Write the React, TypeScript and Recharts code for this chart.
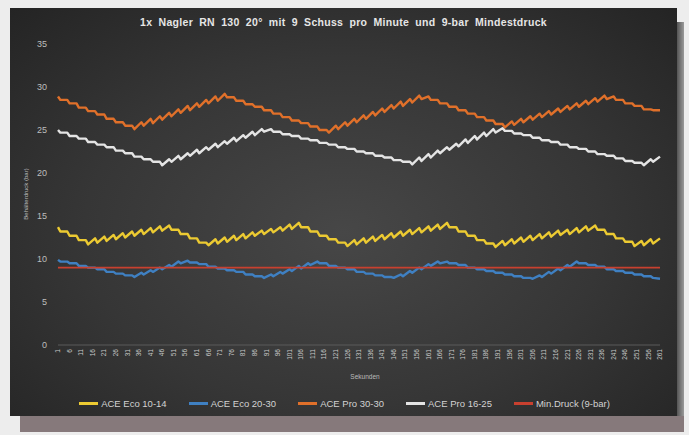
import React from "react";
import { LineChart, Line, XAxis, YAxis, Legend } from "recharts";

// time of each nailer shot (seconds)
const shotSeconds = [1, 5, 9, 13, 17, 21, 25, 29, 33, 37, 41, 45, 49, 53, 57, 61, 65, 69, 73, 77, 81, 85, 89, 93, 97, 101, 105, 109, 113, 117, 121, 125, 129, 133, 137, 141, 145, 149, 153, 157, 161, 165, 169, 173, 177, 181, 185, 189, 193, 197, 201, 205, 209, 213, 217, 221, 225, 229, 233, 237, 241, 245, 249, 253, 257, 261];

const xTicks = [1, 6, 11, 16, 21, 26, 31, 36, 41, 46, 51, 56, 61, 66, 71, 76, 81, 86, 91, 96, 101, 106, 111, 116, 121, 126, 131, 136, 141, 146, 151, 156, 161, 166, 171, 176, 181, 186, 191, 196, 201, 206, 211, 216, 221, 226, 231, 236, 241, 246, 251, 256, 261];
const yTicks = [0, 5, 10, 15, 20, 25, 30, 35];

// pressure just before each shot / just after each shot (bar)
const eco1014Pre = [13.7, 13.2, 12.7, 12.2, 12.4, 12.6, 12.8, 13.0, 13.2, 13.4, 13.6, 13.8, 13.9, 13.4, 12.9, 12.4, 11.9, 12.3, 12.5, 12.7, 12.9, 13.1, 13.3, 13.5, 13.7, 14.0, 14.2, 13.7, 13.2, 12.7, 12.3, 11.9, 12.2, 12.4, 12.6, 12.8, 13.0, 13.2, 13.4, 13.6, 13.8, 14.0, 14.2, 13.7, 13.2, 12.7, 12.2, 11.8, 12.1, 12.3, 12.5, 12.7, 12.9, 13.1, 13.3, 13.4, 13.6, 13.8, 13.9, 13.4, 12.9, 12.4, 12.0, 12.1, 12.3, 12.4];
const eco1014Post = [13.2, 12.7, 12.2, 11.7, 11.9, 12.1, 12.3, 12.5, 12.7, 12.9, 13.1, 13.3, 13.4, 12.9, 12.4, 11.9, 11.6, 11.8, 12.0, 12.2, 12.4, 12.7, 12.9, 13.1, 13.3, 13.5, 13.7, 13.2, 12.7, 12.3, 11.9, 11.5, 11.7, 11.9, 12.1, 12.3, 12.5, 12.7, 12.9, 13.1, 13.3, 13.5, 13.7, 13.2, 12.7, 12.2, 11.8, 11.4, 11.6, 11.8, 12.0, 12.2, 12.4, 12.6, 12.8, 12.9, 13.1, 13.3, 13.4, 12.9, 12.4, 12.0, 11.5, 11.6, 11.8];

const eco2030Pre = [9.9, 9.7, 9.5, 9.2, 9.0, 8.8, 8.5, 8.3, 8.1, 8.4, 8.7, 9.0, 9.3, 9.7, 9.8, 9.6, 9.4, 9.1, 8.9, 8.7, 8.5, 8.2, 8.0, 8.2, 8.5, 8.8, 9.2, 9.5, 9.7, 9.5, 9.2, 9.0, 8.8, 8.5, 8.3, 8.1, 7.9, 8.2, 8.6, 9.0, 9.4, 9.7, 9.7, 9.5, 9.3, 9.0, 8.8, 8.6, 8.4, 8.2, 8.0, 7.8, 8.1, 8.5, 8.9, 9.3, 9.7, 9.5, 9.3, 9.1, 8.8, 8.6, 8.4, 8.2, 8.0, 7.7];
const eco2030Post = [9.7, 9.5, 9.2, 9.0, 8.8, 8.5, 8.3, 8.1, 7.9, 8.2, 8.5, 8.8, 9.1, 9.5, 9.6, 9.4, 9.1, 8.9, 8.7, 8.5, 8.2, 8.0, 7.8, 8.0, 8.3, 8.6, 8.9, 9.3, 9.5, 9.2, 9.0, 8.8, 8.5, 8.3, 8.1, 7.9, 7.8, 8.0, 8.4, 8.8, 9.2, 9.5, 9.5, 9.3, 9.0, 8.8, 8.6, 8.4, 8.2, 8.0, 7.8, 7.7, 7.9, 8.3, 8.7, 9.1, 9.5, 9.3, 9.1, 8.8, 8.6, 8.4, 8.2, 8.0, 7.8];

const pro3030Pre = [28.9, 28.5, 28.1, 27.6, 27.2, 26.8, 26.3, 25.9, 25.5, 25.9, 26.3, 26.6, 27.0, 27.4, 27.8, 28.1, 28.5, 28.9, 29.2, 28.8, 28.4, 28.0, 27.7, 27.3, 26.9, 26.5, 26.1, 25.8, 25.4, 25.0, 25.5, 25.9, 26.3, 26.7, 27.1, 27.5, 27.9, 28.3, 28.6, 29.0, 28.9, 28.5, 28.1, 27.7, 27.3, 26.9, 26.5, 26.1, 25.7, 26.0, 26.3, 26.6, 26.9, 27.2, 27.5, 27.8, 28.1, 28.4, 28.7, 29.0, 28.9, 28.5, 28.1, 27.8, 27.4, 27.3];
const pro3030Post = [28.5, 28.1, 27.6, 27.2, 26.8, 26.3, 25.9, 25.5, 25.1, 25.5, 25.8, 26.2, 26.6, 27.0, 27.3, 27.7, 28.1, 28.4, 28.8, 28.4, 28.0, 27.7, 27.3, 26.9, 26.5, 26.1, 25.8, 25.4, 25.0, 24.7, 25.1, 25.5, 25.9, 26.3, 26.7, 27.1, 27.5, 27.8, 28.2, 28.6, 28.5, 28.1, 27.7, 27.3, 26.9, 26.5, 26.1, 25.7, 25.3, 25.6, 25.9, 26.2, 26.5, 26.8, 27.1, 27.4, 27.7, 28.0, 28.3, 28.6, 28.5, 28.1, 27.8, 27.4, 27.3];

const pro1625Pre = [25.0, 24.7, 24.3, 24.0, 23.6, 23.3, 23.0, 22.6, 22.3, 21.9, 21.6, 21.3, 21.6, 22.0, 22.3, 22.7, 23.0, 23.4, 23.7, 24.1, 24.4, 24.8, 25.1, 25.1, 24.8, 24.5, 24.3, 24.0, 23.8, 23.5, 23.3, 23.0, 22.8, 22.5, 22.3, 22.0, 21.8, 21.5, 21.3, 21.8, 22.2, 22.6, 23.0, 23.4, 23.9, 24.3, 24.7, 25.1, 25.2, 24.9, 24.6, 24.4, 24.1, 23.8, 23.6, 23.3, 23.0, 22.8, 22.5, 22.2, 22.0, 21.7, 21.4, 21.2, 21.6, 21.9];
const pro1625Post = [24.7, 24.3, 24.0, 23.6, 23.3, 23.0, 22.6, 22.3, 21.9, 21.6, 21.3, 20.9, 21.3, 21.6, 22.0, 22.3, 22.7, 23.0, 23.4, 23.7, 24.1, 24.4, 24.8, 24.8, 24.5, 24.3, 24.0, 23.8, 23.5, 23.3, 23.0, 22.8, 22.5, 22.3, 22.0, 21.8, 21.5, 21.3, 21.0, 21.4, 21.8, 22.3, 22.7, 23.1, 23.5, 23.9, 24.3, 24.7, 24.9, 24.6, 24.4, 24.1, 23.8, 23.6, 23.3, 23.0, 22.8, 22.5, 22.2, 22.0, 21.7, 21.4, 21.2, 20.9, 21.3];

const minDruckBar = 9;

const seriesNames = ["ACE Eco 10-14", "ACE Eco 20-30", "ACE Pro 30-30", "ACE Pro 16-25", "Min.Druck (9-bar)"];
const seriesColors = ["#ecca32", "#3f80c2", "#e0702a", "#e4e4e4", "#c8402f"];

const rows: any[] = [];
shotSeconds.forEach((t, k) => {
  rows.push({ t, eco1014: eco1014Pre[k], eco2030: eco2030Pre[k], pro3030: pro3030Pre[k], pro1625: pro1625Pre[k], min: minDruckBar });
  if (k < eco1014Post.length) {
    rows.push({ t: t + 1, eco1014: eco1014Post[k], eco2030: eco2030Post[k], pro3030: pro3030Post[k], pro1625: pro1625Post[k], min: minDruckBar });
  }
});

const keys = ["eco1014", "eco2030", "pro3030", "pro1625", "min"];

const FONT = "'Liberation Sans', 'DejaVu Sans', sans-serif";

const XTick = (props: any) => {
  const { x, y, payload } = props;
  return (
    <text x={x} y={y} transform={`rotate(-90 ${x} ${y})`} textAnchor="end" dy="0.33em" fill="#c8c8c8" fontSize={6.5} fontFamily={FONT}>
      {payload.value}
    </text>
  );
};

const LegendContent = (props: any) => {
  const payload = [...(props.payload || [])].sort(
    (a: any, b: any) => seriesNames.indexOf(a.value) - seriesNames.indexOf(b.value)
  );
  return (
    <div style={{ display: "flex", justifyContent: "center", gap: 22, fontFamily: FONT, fontSize: 9.5, color: "#d2d2d2", width: 689 }}>
      {payload.map((p: any, i: number) => (
        <div key={i} style={{ display: "flex", alignItems: "center" }}>
          <span style={{ display: "inline-block", width: 19, height: 2.5, background: p.color, marginRight: 3 }} />
          <span>{p.value}</span>
        </div>
      ))}
    </div>
  );
};

export default function App() {
  return (
    <div style={{ position: "absolute", left: 0, top: 0, width: 689, height: 435, background: "#ededed", overflow: "hidden" }}>
      <div style={{ position: "absolute", left: 20, top: 414, width: 664, height: 18, background: "#86797b" }} />
      <div style={{ position: "absolute", left: 676, top: 22, width: 8, height: 394, background: "linear-gradient(90deg,#4a4a4a,#9a9a9a)" }} />
      <div style={{ position: "absolute", left: 10, top: 8, width: 667, height: 408, background: "radial-gradient(ellipse at 50% 55%, #474747 0%, #363636 55%, #242424 100%)" }} />
      <div style={{ position: "absolute", left: 10, top: 16, width: 667, textAlign: "center", fontFamily: FONT, fontSize: 10.5, fontWeight: "bold", color: "#e6e6e6", wordSpacing: 3, letterSpacing: 0.3 }}>
        1x Nagler RN 130 20° mit 9 Schuss pro Minute und 9-bar Mindestdruck
      </div>
      <div style={{ position: "absolute", left: 26, top: 195, width: 0, height: 0 }}>
        <div style={{ position: "absolute", left: -40, top: -4, width: 80, textAlign: "center", transform: "rotate(-90deg)", fontFamily: FONT, fontSize: 6, color: "#bbbbbb", whiteSpace: "nowrap" }}>
          Behälterdruck (bar)
        </div>
      </div>
      <div style={{ position: "absolute", left: 330, top: 373, width: 70, textAlign: "center", fontFamily: FONT, fontSize: 6.5, color: "#bbbbbb" }}>
        Sekunden
      </div>
      <div style={{ position: "absolute", left: 0, top: 0 }}>
        <LineChart width={689} height={435} data={rows} margin={{ top: 44, right: 29, left: 0, bottom: 60 }}>
          <XAxis
            dataKey="t"
            type="number"
            domain={[1, 261]}
            ticks={xTicks}
            interval={0}
            height={30}
            tick={<XTick />}
            tickLine={false}
            tickSize={0}
            tickMargin={4}
            axisLine={{ stroke: "#5a5a5a" }}
          />
          <YAxis
            type="number"
            domain={[0, 35]}
            ticks={yTicks}
            width={58}
            axisLine={false}
            tickLine={false}
            tickSize={0}
            tickMargin={11}
            tick={{ fill: "#bdbdbd", fontSize: 9, fontFamily: FONT }}
          />
          <Legend
            layout="horizontal"
            verticalAlign="middle"
            align="center"
            wrapperStyle={{ top: 398, left: 0, width: 689 }}
            content={<LegendContent />}
          />
          {keys.map((key, i) => (
            <Line
              key={key}
              type="linear"
              dataKey={key}
              name={seriesNames[i]}
              stroke={seriesColors[i]}
              strokeWidth={i === 4 ? 1.8 : 2.4}
              strokeLinejoin="round"
              dot={false}
              isAnimationActive={false}
            />
          ))}
        </LineChart>
      </div>
    </div>
  );
}
